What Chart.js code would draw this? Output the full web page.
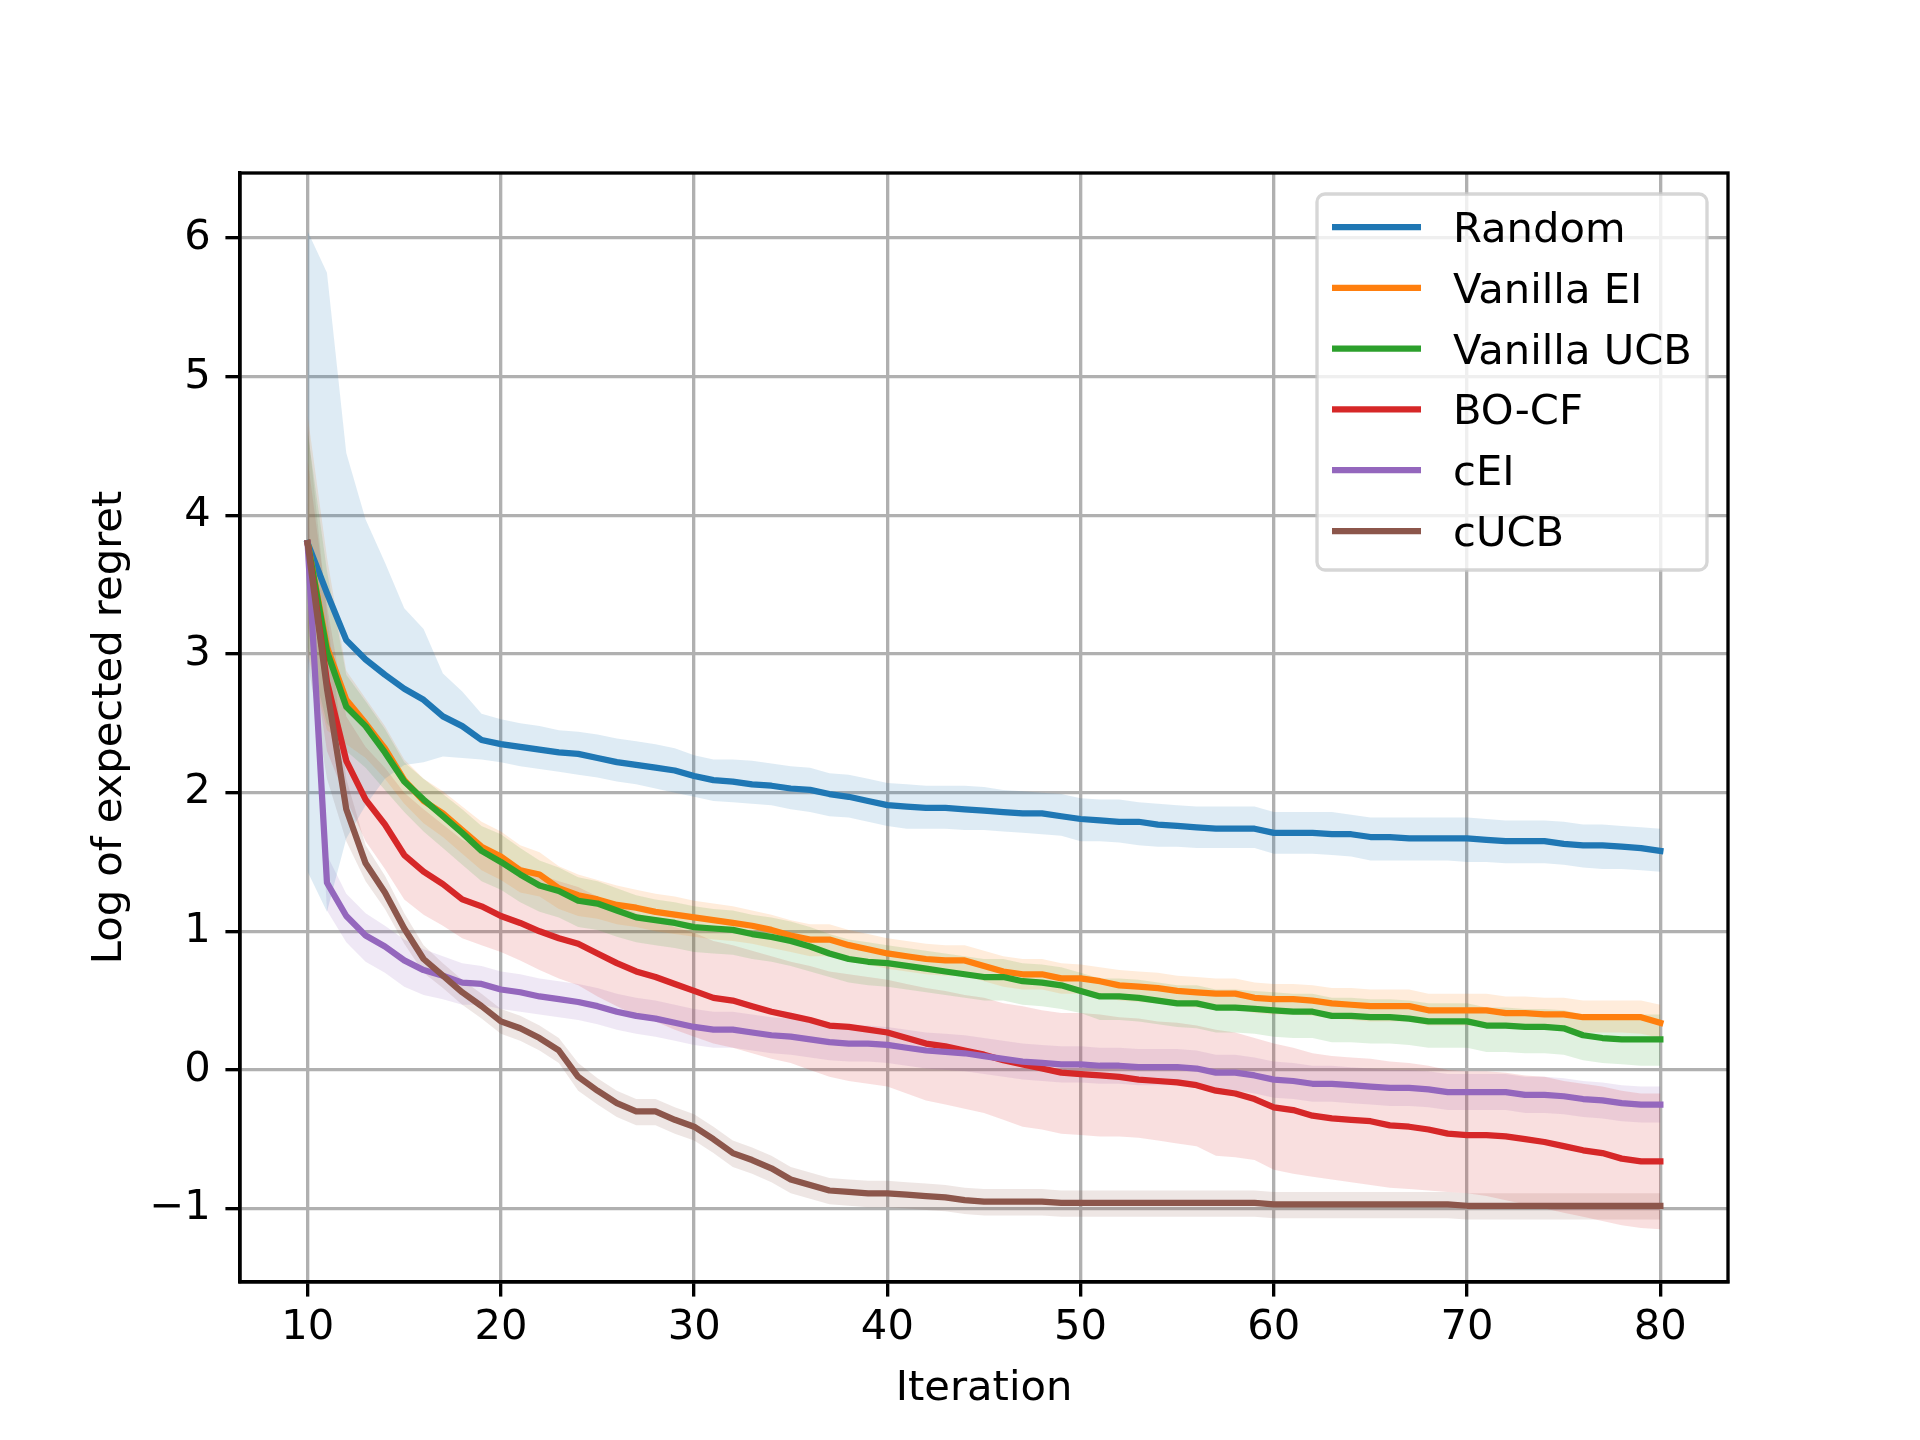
<!DOCTYPE html>
<html>
<head>
<meta charset="utf-8">
<script src="https://cdn.jsdelivr.net/npm/chart.js@4.4.1/dist/chart.umd.min.js"></script>
<style>
  body { margin: 0; background: #ffffff; }
  #wrap { width: 1920px; height: 1440px; }
</style>
</head>
<body>
<div id="wrap"><canvas id="regret" width="1920" height="1440"></canvas></div>
<script>
const iterations = [10, 11, 12, 13, 14, 15, 16, 17, 18, 19, 20, 21, 22, 23, 24, 25, 26, 27, 28, 29,
    30, 31, 32, 33, 34, 35, 36, 37, 38, 39, 40, 41, 42, 43, 44, 45, 46, 47, 48, 49,
    50, 51, 52, 53, 54, 55, 56, 57, 58, 59, 60, 61, 62, 63, 64, 65, 66, 67, 68, 69,
    70, 71, 72, 73, 74, 75, 76, 77, 78, 79, 80];

const xTicks = [10, 20, 30, 40, 50, 60, 70, 80];
const yTicks = [-1, 0, 1, 2, 3, 4, 5, 6];

const seriesNames = ["Random", "Vanilla EI", "Vanilla UCB", "BO-CF", "cEI", "cUCB"];
const seriesColors = ["#1f77b4", "#ff7f0e", "#2ca02c", "#d62728", "#9467bd", "#8c564b"];

// Random
const randomMean = [3.80, 3.44, 3.10, 2.96, 2.85, 2.75, 2.67, 2.55, 2.48, 2.38,
    2.35, 2.33, 2.31, 2.29, 2.28, 2.25, 2.22, 2.20, 2.18, 2.16,
    2.12, 2.09, 2.08, 2.06, 2.05, 2.03, 2.02, 1.99, 1.97, 1.94,
    1.91, 1.90, 1.89, 1.89, 1.88, 1.87, 1.86, 1.85, 1.85, 1.83,
    1.81, 1.80, 1.79, 1.79, 1.77, 1.76, 1.75, 1.74, 1.74, 1.74,
    1.71, 1.71, 1.71, 1.70, 1.70, 1.68, 1.68, 1.67, 1.67, 1.67,
    1.67, 1.66, 1.65, 1.65, 1.65, 1.63, 1.62, 1.62, 1.61, 1.60, 1.58];
const randomHigh = [6.05, 5.75, 4.45, 3.97, 3.66, 3.33, 3.18, 2.86, 2.73, 2.57,
    2.53, 2.50, 2.48, 2.45, 2.44, 2.42, 2.39, 2.37, 2.35, 2.32,
    2.27, 2.24, 2.24, 2.23, 2.21, 2.19, 2.18, 2.14, 2.13, 2.10,
    2.07, 2.06, 2.05, 2.05, 2.05, 2.04, 2.02, 2.01, 2.00, 1.99,
    1.96, 1.95, 1.95, 1.93, 1.92, 1.91, 1.90, 1.90, 1.90, 1.90,
    1.86, 1.86, 1.86, 1.86, 1.84, 1.82, 1.82, 1.82, 1.82, 1.82,
    1.82, 1.81, 1.80, 1.80, 1.80, 1.79, 1.77, 1.77, 1.76, 1.75, 1.74];
const randomLow = [1.43, 1.14, 1.67, 1.91, 2.10, 2.20, 2.22, 2.26, 2.25, 2.24,
    2.22, 2.19, 2.17, 2.15, 2.13, 2.11, 2.08, 2.06, 2.03, 2.00,
    1.97, 1.94, 1.93, 1.92, 1.91, 1.88, 1.86, 1.83, 1.82, 1.79,
    1.76, 1.74, 1.74, 1.74, 1.73, 1.73, 1.72, 1.71, 1.70, 1.69,
    1.65, 1.65, 1.64, 1.62, 1.61, 1.61, 1.60, 1.60, 1.60, 1.60,
    1.56, 1.56, 1.56, 1.55, 1.54, 1.51, 1.51, 1.51, 1.51, 1.51,
    1.50, 1.50, 1.49, 1.49, 1.49, 1.48, 1.46, 1.45, 1.45, 1.44, 1.43];

// Vanilla EI
const eiMean = [3.80, 3.05, 2.67, 2.50, 2.32, 2.09, 1.94, 1.85, 1.73, 1.61,
    1.54, 1.44, 1.41, 1.31, 1.26, 1.23, 1.19, 1.17, 1.14, 1.12,
    1.10, 1.08, 1.06, 1.04, 1.01, 0.97, 0.94, 0.94, 0.90, 0.87,
    0.84, 0.82, 0.80, 0.79, 0.79, 0.75, 0.71, 0.69, 0.69, 0.66,
    0.66, 0.64, 0.61, 0.60, 0.59, 0.57, 0.56, 0.55, 0.55, 0.52,
    0.51, 0.51, 0.50, 0.48, 0.47, 0.46, 0.46, 0.46, 0.43, 0.43,
    0.43, 0.43, 0.41, 0.41, 0.40, 0.40, 0.38, 0.38, 0.38, 0.38, 0.34];
const eiHigh = [4.72, 3.70, 2.88, 2.68, 2.48, 2.24, 2.10, 2.01, 1.90, 1.79,
    1.72, 1.62, 1.57, 1.47, 1.41, 1.37, 1.33, 1.30, 1.27, 1.25,
    1.22, 1.20, 1.18, 1.15, 1.12, 1.08, 1.05, 1.05, 1.01, 0.98,
    0.95, 0.93, 0.91, 0.90, 0.90, 0.86, 0.82, 0.80, 0.80, 0.77,
    0.76, 0.74, 0.72, 0.71, 0.70, 0.68, 0.67, 0.66, 0.66, 0.63,
    0.62, 0.62, 0.61, 0.59, 0.59, 0.58, 0.58, 0.58, 0.55, 0.55,
    0.55, 0.55, 0.53, 0.53, 0.52, 0.52, 0.50, 0.50, 0.50, 0.50, 0.47];
const eiLow = [3.00, 2.45, 2.35, 2.25, 2.10, 1.92, 1.78, 1.68, 1.56, 1.44,
    1.37, 1.28, 1.25, 1.16, 1.11, 1.09, 1.05, 1.03, 1.00, 0.98,
    0.96, 0.94, 0.93, 0.91, 0.88, 0.85, 0.82, 0.82, 0.78, 0.76,
    0.73, 0.71, 0.69, 0.68, 0.68, 0.64, 0.60, 0.58, 0.58, 0.55,
    0.55, 0.53, 0.50, 0.49, 0.48, 0.46, 0.45, 0.44, 0.44, 0.41,
    0.40, 0.40, 0.39, 0.37, 0.36, 0.35, 0.35, 0.35, 0.32, 0.32,
    0.32, 0.32, 0.30, 0.30, 0.29, 0.29, 0.27, 0.27, 0.27, 0.26, 0.23];

// Vanilla UCB
const ucbMean = [3.80, 3.02, 2.62, 2.48, 2.29, 2.08, 1.95, 1.83, 1.71, 1.58,
    1.50, 1.41, 1.33, 1.29, 1.22, 1.20, 1.15, 1.10, 1.08, 1.06,
    1.03, 1.02, 1.01, 0.98, 0.96, 0.93, 0.89, 0.84, 0.80, 0.78,
    0.77, 0.75, 0.73, 0.71, 0.69, 0.67, 0.67, 0.64, 0.63, 0.61,
    0.57, 0.53, 0.53, 0.52, 0.50, 0.48, 0.48, 0.45, 0.45, 0.44,
    0.43, 0.42, 0.42, 0.39, 0.39, 0.38, 0.38, 0.37, 0.35, 0.35,
    0.35, 0.32, 0.32, 0.31, 0.31, 0.30, 0.25, 0.23, 0.22, 0.22, 0.22];
const ucbHigh = [4.60, 3.60, 2.85, 2.66, 2.46, 2.22, 2.10, 1.99, 1.88, 1.76,
    1.70, 1.60, 1.51, 1.46, 1.39, 1.36, 1.31, 1.26, 1.23, 1.21,
    1.18, 1.16, 1.15, 1.12, 1.10, 1.07, 1.03, 0.98, 0.94, 0.92,
    0.90, 0.88, 0.86, 0.84, 0.82, 0.80, 0.80, 0.77, 0.76, 0.74,
    0.70, 0.66, 0.66, 0.65, 0.63, 0.61, 0.61, 0.58, 0.58, 0.57,
    0.56, 0.55, 0.55, 0.52, 0.52, 0.51, 0.51, 0.50, 0.48, 0.48,
    0.48, 0.45, 0.45, 0.44, 0.44, 0.43, 0.40, 0.39, 0.39, 0.40, 0.40];
const ucbLow = [3.05, 2.50, 2.30, 2.18, 2.02, 1.86, 1.72, 1.60, 1.48, 1.36,
    1.30, 1.21, 1.14, 1.10, 1.03, 1.01, 0.96, 0.92, 0.90, 0.88,
    0.85, 0.84, 0.83, 0.80, 0.78, 0.75, 0.71, 0.67, 0.63, 0.61,
    0.60, 0.58, 0.56, 0.54, 0.52, 0.50, 0.50, 0.47, 0.46, 0.44,
    0.41, 0.36, 0.36, 0.35, 0.33, 0.31, 0.30, 0.27, 0.27, 0.26,
    0.24, 0.23, 0.23, 0.20, 0.20, 0.19, 0.19, 0.18, 0.16, 0.16,
    0.16, 0.13, 0.13, 0.12, 0.12, 0.11, 0.07, 0.05, 0.04, 0.03, 0.03];

// BO-CF
const bocfMean = [3.80, 2.80, 2.23, 1.95, 1.77, 1.55, 1.43, 1.34, 1.23, 1.18,
    1.11, 1.06, 1.00, 0.95, 0.91, 0.84, 0.77, 0.71, 0.67, 0.62,
    0.57, 0.52, 0.50, 0.46, 0.42, 0.39, 0.36, 0.32, 0.31, 0.29,
    0.27, 0.23, 0.19, 0.17, 0.14, 0.11, 0.07, 0.04, 0.01, -0.02,
    -0.03, -0.04, -0.05, -0.07, -0.08, -0.09, -0.11, -0.15, -0.17, -0.21,
    -0.27, -0.29, -0.33, -0.35, -0.36, -0.37, -0.40, -0.41, -0.43, -0.46,
    -0.47, -0.47, -0.48, -0.50, -0.52, -0.55, -0.58, -0.60, -0.64, -0.66, -0.66];
const bocfHigh = [4.40, 3.35, 2.55, 2.33, 2.18, 2.00, 1.88, 1.77, 1.66, 1.59,
    1.52, 1.47, 1.41, 1.36, 1.32, 1.25, 1.19, 1.13, 1.08, 1.03,
    0.99, 0.93, 0.90, 0.86, 0.82, 0.78, 0.75, 0.71, 0.69, 0.67,
    0.65, 0.62, 0.59, 0.57, 0.54, 0.52, 0.48, 0.46, 0.43, 0.41,
    0.41, 0.40, 0.38, 0.37, 0.35, 0.34, 0.32, 0.29, 0.27, 0.23,
    0.19, 0.16, 0.12, 0.10, 0.09, 0.08, 0.06, 0.05, 0.03, 0.00,
    -0.01, -0.01, -0.02, -0.04, -0.05, -0.08, -0.10, -0.12, -0.15, -0.17, -0.17];
const bocfLow = [3.20, 2.30, 1.95, 1.65, 1.45, 1.23, 1.12, 1.04, 0.95, 0.90,
    0.85, 0.79, 0.72, 0.66, 0.61, 0.53, 0.46, 0.39, 0.35, 0.29,
    0.24, 0.19, 0.16, 0.12, 0.08, 0.05, 0.00, -0.05, -0.08, -0.10,
    -0.12, -0.17, -0.22, -0.25, -0.28, -0.31, -0.36, -0.41, -0.43, -0.46,
    -0.47, -0.48, -0.48, -0.49, -0.51, -0.53, -0.55, -0.62, -0.63, -0.65,
    -0.72, -0.75, -0.77, -0.79, -0.81, -0.83, -0.85, -0.86, -0.87, -0.88,
    -0.89, -0.91, -0.94, -0.97, -1.00, -1.03, -1.06, -1.09, -1.12, -1.14, -1.15];

// cEI
const ceiMean = [3.80, 1.35, 1.11, 0.97, 0.89, 0.79, 0.72, 0.68, 0.63, 0.62,
    0.58, 0.56, 0.53, 0.51, 0.49, 0.46, 0.42, 0.39, 0.37, 0.34,
    0.31, 0.29, 0.29, 0.27, 0.25, 0.24, 0.22, 0.20, 0.19, 0.19,
    0.18, 0.16, 0.14, 0.13, 0.12, 0.10, 0.08, 0.06, 0.05, 0.04,
    0.04, 0.03, 0.03, 0.02, 0.02, 0.02, 0.01, -0.02, -0.02, -0.04,
    -0.07, -0.08, -0.10, -0.10, -0.11, -0.12, -0.13, -0.13, -0.14, -0.16,
    -0.16, -0.16, -0.16, -0.18, -0.18, -0.19, -0.21, -0.22, -0.24, -0.25, -0.25];
const ceiHigh = [4.10, 1.55, 1.27, 1.13, 1.04, 0.94, 0.87, 0.82, 0.77, 0.75,
    0.71, 0.69, 0.66, 0.64, 0.62, 0.59, 0.55, 0.52, 0.50, 0.47,
    0.44, 0.42, 0.42, 0.40, 0.38, 0.37, 0.35, 0.33, 0.32, 0.32,
    0.31, 0.29, 0.27, 0.26, 0.25, 0.23, 0.21, 0.19, 0.18, 0.17,
    0.17, 0.16, 0.16, 0.15, 0.15, 0.15, 0.14, 0.11, 0.11, 0.09,
    0.06, 0.05, 0.03, 0.03, 0.02, 0.01, 0.00, 0.00, -0.01, -0.03,
    -0.03, -0.03, -0.03, -0.05, -0.05, -0.06, -0.08, -0.09, -0.11, -0.12, -0.12];
const ceiLow = [3.50, 1.15, 0.92, 0.78, 0.70, 0.60, 0.54, 0.51, 0.47, 0.47,
    0.44, 0.42, 0.40, 0.38, 0.36, 0.33, 0.29, 0.26, 0.24, 0.21,
    0.18, 0.16, 0.16, 0.14, 0.12, 0.11, 0.09, 0.07, 0.06, 0.06,
    0.05, 0.03, 0.01, 0.00, -0.01, -0.03, -0.05, -0.07, -0.08, -0.09,
    -0.09, -0.10, -0.10, -0.11, -0.11, -0.11, -0.12, -0.15, -0.15, -0.17,
    -0.20, -0.21, -0.23, -0.23, -0.24, -0.25, -0.26, -0.26, -0.27, -0.29,
    -0.29, -0.29, -0.29, -0.31, -0.31, -0.32, -0.34, -0.35, -0.37, -0.38, -0.38];

// cUCB
const cucbMean = [3.80, 2.75, 1.88, 1.49, 1.28, 1.02, 0.80, 0.68, 0.56, 0.46,
    0.35, 0.30, 0.23, 0.14, -0.05, -0.15, -0.24, -0.30, -0.30, -0.36,
    -0.41, -0.50, -0.60, -0.65, -0.71, -0.79, -0.83, -0.87, -0.88, -0.89,
    -0.89, -0.90, -0.91, -0.92, -0.94, -0.95, -0.95, -0.95, -0.95, -0.96,
    -0.96, -0.96, -0.96, -0.96, -0.96, -0.96, -0.96, -0.96, -0.96, -0.96,
    -0.97, -0.97, -0.97, -0.97, -0.97, -0.97, -0.97, -0.97, -0.97, -0.97,
    -0.98, -0.98, -0.98, -0.98, -0.98, -0.98, -0.98, -0.98, -0.98, -0.98, -0.98];
const cucbHigh = [4.65, 3.30, 2.10, 1.62, 1.40, 1.13, 0.90, 0.77, 0.65, 0.55,
    0.44, 0.39, 0.32, 0.23, 0.05, -0.06, -0.15, -0.21, -0.21, -0.27,
    -0.32, -0.41, -0.51, -0.56, -0.62, -0.70, -0.74, -0.78, -0.79, -0.80,
    -0.80, -0.81, -0.82, -0.83, -0.85, -0.86, -0.86, -0.86, -0.86, -0.87,
    -0.87, -0.87, -0.87, -0.87, -0.87, -0.87, -0.87, -0.87, -0.87, -0.87,
    -0.88, -0.88, -0.88, -0.88, -0.88, -0.88, -0.88, -0.88, -0.88, -0.88,
    -0.89, -0.89, -0.89, -0.89, -0.89, -0.89, -0.89, -0.89, -0.89, -0.89, -0.89];
const cucbLow = [2.95, 2.10, 1.65, 1.36, 1.16, 0.91, 0.70, 0.59, 0.47, 0.37,
    0.26, 0.21, 0.14, 0.05, -0.15, -0.25, -0.34, -0.40, -0.40, -0.46,
    -0.51, -0.60, -0.70, -0.75, -0.81, -0.89, -0.93, -0.97, -0.98, -0.99,
    -0.99, -1.00, -1.01, -1.02, -1.04, -1.05, -1.05, -1.05, -1.05, -1.06,
    -1.06, -1.06, -1.06, -1.06, -1.06, -1.06, -1.06, -1.06, -1.06, -1.06,
    -1.07, -1.07, -1.07, -1.07, -1.07, -1.07, -1.07, -1.07, -1.07, -1.07,
    -1.08, -1.08, -1.08, -1.08, -1.08, -1.08, -1.08, -1.08, -1.08, -1.08, -1.08];

const means = [randomMean, eiMean, ucbMean, bocfMean, ceiMean, cucbMean];
const highs = [randomHigh, eiHigh, ucbHigh, bocfHigh, ceiHigh, cucbHigh];
const lows = [randomLow, eiLow, ucbLow, bocfLow, ceiLow, cucbLow];

// 300 dpi: 1pt = 300/72 px
const PT = 300 / 72;
const FONT = "'DejaVu Sans', 'Liberation Sans', sans-serif";

const toPoints = (vals) => vals.map((v, i) => ({ x: iterations[i], y: v }));

const hexToRgba = (hex, a) => {
    const n = parseInt(hex.slice(1), 16);
    return `rgba(${(n >> 16) & 255}, ${(n >> 8) & 255}, ${n & 255}, ${a})`;
};

const datasets = [];
// bands first (drawn underneath)
seriesNames.forEach((name, s) => {
    datasets.push({
        label: name + " low",
        data: toPoints(lows[s]),
        borderWidth: 0,
        borderColor: "transparent",
        pointRadius: 0,
        fill: false,
        order: 100 + s,
        isBand: true,
    });
    datasets.push({
        label: name + " high",
        data: toPoints(highs[s]),
        borderWidth: 0,
        borderColor: "transparent",
        backgroundColor: hexToRgba(seriesColors[s], 0.15),
        pointRadius: 0,
        fill: "-1",
        order: 100 + s,
        isBand: true,
    });
});
// mean lines on top, later series above earlier ones
seriesNames.forEach((name, s) => {
    datasets.push({
        label: name,
        data: toPoints(means[s]),
        borderColor: seriesColors[s],
        borderWidth: 1.5 * PT,
        borderCapStyle: "square",
        borderJoinStyle: "round",
        pointRadius: 0,
        fill: false,
        tension: 0,
        order: 10 - s,
    });
});

const framePlugin = {
    id: "frame",
    afterDraw(chart) {
        const ctx = chart.ctx;
        const a = chart.chartArea;
        ctx.save();
        ctx.strokeStyle = "#000000";
        ctx.lineWidth = 0.8 * PT;
        ctx.strokeRect(a.left, a.top, a.right - a.left, a.bottom - a.top);
        ctx.restore();

        // legend box (upper right, matplotlib style)
        const lines = chart.data.datasets.filter(d => !d.isBand);
        const box = { x: 1317, y: 194, w: 390, h: 376, r: 8 };
        const rowY0 = 227, rowGap = 60.8;
        ctx.save();
        ctx.beginPath();
        ctx.roundRect(box.x, box.y, box.w, box.h, box.r);
        ctx.fillStyle = "rgba(255, 255, 255, 0.8)";
        ctx.fill();
        ctx.lineWidth = 0.8 * PT;
        ctx.strokeStyle = "rgba(204, 204, 204, 0.8)";
        ctx.stroke();
        ctx.font = `${10 * PT}px ${FONT}`;
        ctx.textBaseline = "alphabetic";
        ctx.textAlign = "left";
        lines.forEach((d, i) => {
            const y = rowY0 + i * rowGap;
            ctx.beginPath();
            ctx.moveTo(1332, y);
            ctx.lineTo(1421, y);
            ctx.strokeStyle = d.borderColor;
            ctx.lineWidth = 1.5 * PT;
            ctx.lineCap = "butt";
            ctx.stroke();
            ctx.fillStyle = "#000000";
            ctx.fillText(d.label, 1453, y + 15);
        });
        ctx.restore();
    }
};

const tickFont = { family: FONT, size: 10 * PT };

new Chart(document.getElementById("regret"), {
    type: "line",
    data: { datasets },
    plugins: [framePlugin],
    options: {
        responsive: false,
        devicePixelRatio: 1,
        animation: false,
        layout: { padding: { top: 173, right: 192, left: 0, bottom: 0 } },
        plugins: {
            legend: { display: false },
            tooltip: { enabled: false },
            filler: { propagate: false },
        },
        scales: {
            x: {
                type: "linear",
                min: 6.5,
                max: 83.5,
                afterFit: (scale) => { scale.height = 158; },
                afterBuildTicks: (scale) => { scale.ticks = xTicks.map(v => ({ value: v })); },
                grid: {
                    color: "#b0b0b0",
                    lineWidth: 0.8 * PT,
                    tickColor: "#000000",
                    tickWidth: 0.8 * PT,
                    tickLength: 3.5 * PT,
                },
                border: { display: true, color: "#000000", width: 0.8 * PT },
                ticks: {
                    color: "#000000",
                    font: tickFont,
                    padding: 3.5 * PT - 8,
                    autoSkip: false,
                    maxRotation: 0,
                    callback: (v) => String(v),
                },
                title: {
                    display: true,
                    text: "Iteration",
                    color: "#000000",
                    font: tickFont,
                    padding: { top: 0, bottom: 26 },
                },
            },
            y: {
                type: "linear",
                min: -1.53,
                max: 6.47,
                afterFit: (scale) => { scale.width = 240; },
                afterBuildTicks: (scale) => { scale.ticks = yTicks.map(v => ({ value: v })); },
                grid: {
                    color: "#b0b0b0",
                    lineWidth: 0.8 * PT,
                    tickColor: "#000000",
                    tickWidth: 0.8 * PT,
                    tickLength: 3.5 * PT,
                },
                border: { display: true, color: "#000000", width: 0.8 * PT },
                ticks: {
                    color: "#000000",
                    font: tickFont,
                    padding: 3.5 * PT,
                    autoSkip: false,
                    callback: (v) => (v < 0 ? "\u2212" + Math.abs(v) : String(v)),
                },
                title: {
                    display: true,
                    text: "Log of expected regret",
                    color: "#000000",
                    font: tickFont,
                    padding: { top: 85, bottom: 0 },
                },
            },
        },
    },
});
</script>
</body>
</html>
